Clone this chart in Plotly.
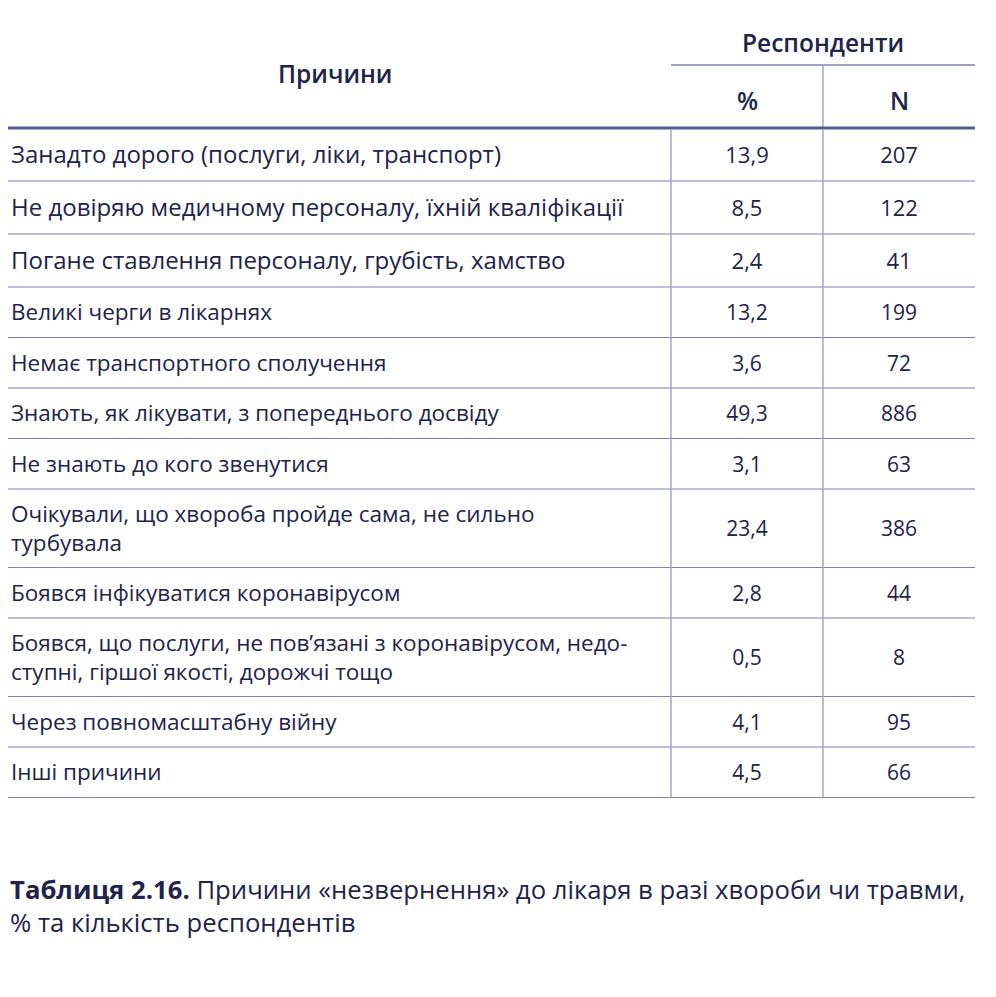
import numpy as np
import plotly.graph_objects as go

reasons = [
    'Занадто дорого (послуги, ліки, транспорт)',
    'Не довіряю медичному персоналу, їхній кваліфікації',
    'Погане ставлення персоналу, грубість, хамство',
    'Великі черги в лікарнях',
    'Немає транспортного сполучення',
    'Знають, як лікувати, з попереднього досвіду',
    'Не знають до кого звенутися',
    'Очікували, що хвороба пройде сама, не сильно<br>турбувала',
    'Боявся інфікуватися коронавірусом',
    'Боявся, що послуги, не пов’язані з коронавірусом, недо-<br>ступні, гіршої якості, дорожчі тощо',
    'Через повномасштабну війну',
    'Інші причини',
]
pct = ['13,9', '8,5', '2,4', '13,2', '3,6', '49,3', '3,1', '23,4', '2,8', '0,5', '4,1', '4,5']
n_resp = [207, 122, 41, 199, 72, 886, 63, 386, 44, 8, 95, 66]

header_main = 'Причини'
header_group = 'Респонденти'
header_cols = ['%', 'N']
caption_bold = 'Таблиця 2.16.'
caption_rest = ' Причини «незвернення» до лікаря в разі хвороби чи травми,<br>% та кількість респондентів'

TEXT = '#22234a'
LINE_DARK = '#575b9a'
LINE = '#7c7fb6'
LINE_V = '#a3a5cc'
FONT = 'Open Sans, sans-serif'

# page body has an 8px margin: plot area is shifted so axis units == page pixels
PAD = 8
W, H = 996, 997

# row geometry (pixels, y grows down)
top = 128
big_rows = 3
heights = []
for i, r in enumerate(reasons):
    nl = r.count('<br>') + 1
    if i < big_rows:
        heights.append(53)
    else:
        heights.append(50.5 + 28 * (nl - 1))
bounds = top + np.concatenate([[0], np.cumsum(heights)])
centers = (bounds[:-1] + bounds[1:]) / 2 + 2.5
sizes = [24 if i < big_rows else 22.5 for i in range(len(reasons))]
num_sizes = [22 if i < big_rows else 21 for i in range(len(reasons))]

x0, x1, x2, x3 = 0, 671, 823, 975
c_pct = (x1 + x2) / 2
c_n = (x2 + x3) / 2

fig = go.Figure()
fig.add_trace(go.Scatter(x=[11] * len(reasons), y=centers, mode='text', text=reasons,
                         textposition='middle right',
                         textfont=dict(size=sizes, color=TEXT, family=FONT), hoverinfo='skip'))
fig.add_trace(go.Scatter(x=[c_pct] * len(pct), y=centers, mode='text', text=pct,
                         textposition='middle center',
                         textfont=dict(size=num_sizes, color=TEXT, family=FONT), hoverinfo='skip'))
fig.add_trace(go.Scatter(x=[c_n] * len(n_resp), y=centers, mode='text', text=[str(v) for v in n_resp],
                         textposition='middle center',
                         textfont=dict(size=num_sizes, color=TEXT, family=FONT), hoverinfo='skip'))

# header texts
hdr_font = dict(size=24.5, color=TEXT, family=FONT, weight=600)
fig.add_annotation(x=x1 / 2, y=73, text=header_main, showarrow=False, font=hdr_font)
fig.add_annotation(x=(x1 + x3) / 2, y=42, text=header_group, showarrow=False, font=hdr_font)
fig.add_annotation(x=c_pct, y=100, text=header_cols[0], showarrow=False, font=hdr_font)
fig.add_annotation(x=c_n, y=100, text=header_cols[1], showarrow=False, font=hdr_font)

# lines
fig.add_shape(type='line', x0=x1, x1=x3, y0=65, y1=65, line=dict(color=LINE, width=1.5))
fig.add_shape(type='line', x0=x2, x1=x2, y0=65, y1=top, line=dict(color=LINE_V, width=1.5))
fig.add_shape(type='line', x0=x0, x1=x3, y0=top, y1=top, line=dict(color=LINE_DARK, width=3))
for b in bounds[1:]:
    fig.add_shape(type='line', x0=x0, x1=x3, y0=b, y1=b, line=dict(color=LINE, width=1.2))
for xv in (x1, x2):
    fig.add_shape(type='line', x0=xv, x1=xv, y0=top + 1.5, y1=bounds[-1], line=dict(color=LINE_V, width=1.5))

# caption
fig.add_annotation(xref='paper', x=0, y=906, xanchor='left', yanchor='middle', align='left', showarrow=False,
                   text='<b>' + caption_bold + '</b>' + caption_rest,
                   font=dict(size=25.7, color=TEXT, family='Open Sans, sans-serif'))

fig.update_xaxes(range=[PAD, W - PAD], visible=False, fixedrange=True)
fig.update_yaxes(range=[H - PAD, PAD], visible=False, fixedrange=True)
fig.update_layout(width=W - 2 * PAD, height=H - 2 * PAD, margin=dict(l=0, r=0, t=0, b=0),
                  plot_bgcolor='white', paper_bgcolor='white', showlegend=False)
fig.write_html('out.html')
